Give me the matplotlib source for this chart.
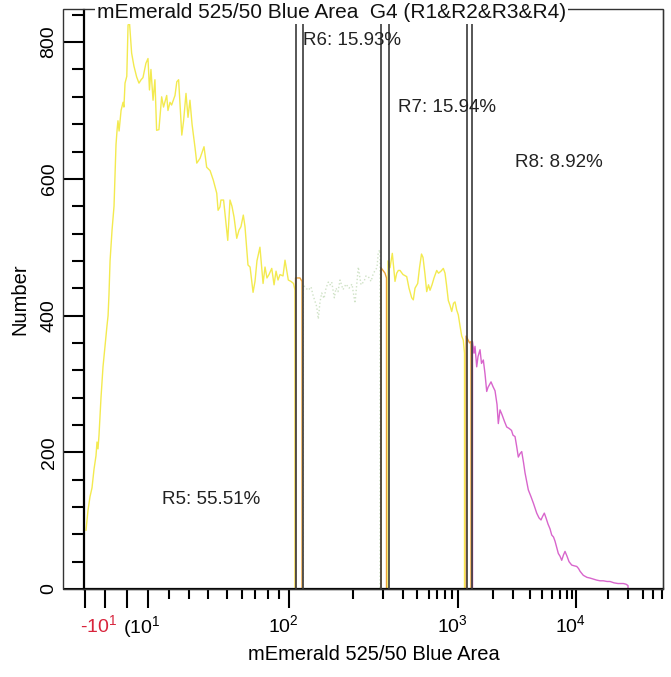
import matplotlib
matplotlib.use("Agg")
import matplotlib.pyplot as plt
import numpy as np
from matplotlib.patches import Rectangle
from matplotlib.ticker import FixedLocator
from matplotlib.transforms import ScaledTranslation

plt.rcParams['font.family'] = ['Liberation Sans', 'DejaVu Sans']
plt.rcParams['mathtext.fontset'] = 'custom'
plt.rcParams['mathtext.rm'] = 'Liberation Sans'
plt.rcParams['mathtext.it'] = 'Liberation Sans:italic'
plt.rcParams['mathtext.bf'] = 'Liberation Sans:bold'

# cytometer display scale: fluorescence value -> display channel
scale_vals = [-30, -20, -10, 0, 10, 20, 30, 40, 50, 60, 70, 80, 90, 100,
              200, 300, 400, 500, 600, 700, 800, 900, 1000,
              2000, 3000, 4000, 5000, 6000, 7000, 8000, 9000, 10000,
              20000, 30000, 40000, 50000, 60000, 100000]
scale_chan = [65, 85, 105, 127, 148, 169, 189, 208, 227, 242, 255, 268, 279, 289,
              353, 383, 403, 417, 429, 437, 445, 452, 458,
              493, 513, 530, 542, 552, 560, 567, 572, 576,
              608, 628, 643, 653, 662, 690]

# histogram, split by gate region
r5_x = [-19.5, -18.5, -17.5, -16.5, -15.5, -14.5, -14, -13.5, -13, -12,
        -11, -10, -9.1, -8.6, -8.2, -7.7, -6.8, -5.9, -5.0, -4.5,
        -4.1, -3.6, -2.7, -1.8, -1.4, -0.9, -0.1, 0.5, 1.2, 2.2,
        3.3, 4.6, 5.7, 6.7, 7.6, 9.0, 10, 10.7, 11.4, 12.4,
        13.3, 14.1, 15.2, 16.5, 17.4, 18.9, 19.5, 20.5, 21.3, 23,
        23.9, 24.8, 26.4, 27.3, 28.5, 29.5, 30.5, 31.6, 33.2, 34.1,
        35.8, 37.9, 39.3, 41.1, 42.8, 44.6, 45.3, 46.3, 46.8, 48.2,
        50.5, 52, 53.3, 54.7, 56.5, 58, 59.3, 61, 62.3, 64.6,
        66.2, 68.5, 70, 71.5, 73.8, 76.2, 77.7, 79.2, 80.9, 83.4,
        85.5, 87.3, 89.1, 91, 94, 96, 99.3, 103, 107, 109.4]
r5_n = [86, 115, 135, 148, 175, 195, 215, 205, 225, 280,
        325, 355, 385, 400, 430, 480, 525, 560, 650, 672,
        685, 670, 700, 712, 705, 740, 750, 825, 828, 784,
        765, 749, 740, 745, 748, 769, 776, 730, 760, 715,
        745, 671, 672, 720, 705, 722, 700, 712, 708, 722,
        742, 745, 664, 685, 725, 690, 715, 680, 645, 623,
        630, 647, 617, 612, 598, 579, 554, 559, 569, 569,
        510, 569, 560, 544, 513, 525, 530, 547, 530, 474,
        471, 434, 450, 480, 500, 447, 471, 455, 460, 469,
        445, 465, 452, 460, 458, 481, 452, 450, 447, 437]

gap1_x = [110.2, 114, 117.2, 120.3]
gap1_n = [455, 455, 455, 450]

r6_x = [121.9, 126.6, 130.2, 134.4, 137.5, 143.3, 145.8, 148.4, 151.1, 154.7,
        157.8, 161.4, 164.1, 166.7, 170.8, 173.4, 176.6, 179.7, 184.4, 189.1,
        193.8, 198.4, 206.7, 217.7, 226.7, 236.7, 243.3, 251, 260, 266.7,
        273.3, 280, 284.3, 290]
r6_n = [445, 440, 437, 442, 430, 413, 395, 420, 433, 425,
        440, 449, 445, 449, 426, 440, 435, 452, 438, 446,
        440, 446, 418, 471, 445, 450, 458, 457, 450, 460,
        466, 470, 493, 496]

gap2_x = [293.3, 300, 310, 317.5]
gap2_n = [470, 466, 462, 455]

r7_x = [325, 335, 346.5, 360, 368.5, 376.5, 385, 400, 426.4, 442.9,
        462.1, 473.6, 485.7, 505.8, 520.8, 537.5, 550, 566.7, 580.8, 595.8,
        612.5, 637.5, 662.5, 696.3, 718.8, 750, 778.8, 800, 821.4, 847.1,
        871.4, 895.7, 925, 950, 978.3, 1008.6, 1057, 1105.7, 1151, 1186]
r7_n = [480, 470, 491, 450, 462, 466, 466, 460, 457, 440,
        426, 423, 440, 447, 470, 490, 485, 460, 435, 445,
        437, 445, 455, 466, 462, 465, 469, 462, 445, 422,
        415, 406, 418, 420, 408, 401, 385, 370, 364, 345]

gap3_x = [1230, 1280, 1330, 1370]
gap3_n = [370, 365, 360, 362]

r8_x = [1414, 1457, 1486, 1534, 1571, 1629, 1671, 1723, 1771, 1820,
        1857, 1943, 2000, 2100, 2200, 2265, 2350, 2450, 2575, 2685,
        2800, 2925, 3000, 3118, 3206, 3312, 3412, 3512, 3618, 3706,
        3900, 4083, 4292, 4558, 4750, 4917, 5050, 5230, 5400, 5600,
        5800, 5970, 6188, 6375, 6788, 7000, 7243, 7500, 7714, 8000,
        8400, 8940, 9500, 10219, 10781, 11250, 12281, 13438, 14375, 16469,
        17500, 18531, 19688, 21000, 23000, 25000, 27650, 29000, 30000]
r8_n = [362, 345, 355, 325, 340, 350, 330, 335, 315, 289,
        295, 303, 296, 290, 270, 242, 262, 255, 245, 237,
        235, 232, 225, 223, 210, 193, 198, 201, 185, 170,
        145, 135, 125, 111, 104, 101, 106, 111, 104, 95,
        88, 79, 76, 70, 52, 48, 42, 50, 55, 48,
        40, 35, 34, 33, 30, 26, 20, 17, 16, 13,
        12, 12, 11, 11, 9, 8, 8, 7, 5]

gate_edges = [111.7, 121.1, 293.3, 330, 1257, 1386]
gate_names = ['R5: 55.51%', 'R6: 15.93%', 'R7: 15.94%', 'R8: 8.92%']

x_major = [-20, -10, 0, 10, 100, 1000, 10000]
x_major_labels = ['', r'-10$^{1}$', '', r'(10$^{1}$', r'10$^{2}$', r'10$^{3}$', r'10$^{4}$']
x_minor = [20, 30, 40, 50, 60, 70, 80, 90,
           200, 300, 400, 500, 600, 700, 800, 900,
           2000, 3000, 4000, 5000, 6000, 7000, 8000, 9000,
           20000, 30000, 40000, 50000, 60000]
y_major = [0, 200, 400, 600, 800]

YELLOW = '#f3ea4f'
ORANGE = '#eda23a'
PALE = '#cfe2c6'
MAGENTA = '#d865cc'
RED = '#d8243c'


def fwd(v):
    return np.interp(v, scale_vals, scale_chan)


def inv(c):
    return np.interp(c, scale_chan, scale_vals)


def dropped(xs, ns, left=True):
    # close a region's trace down to zero at its edges
    x = list(xs) + [xs[-1]]
    n = list(ns) + [0]
    if left:
        x = [xs[0]] + x
        n = [0] + n
    return x, n


fig = plt.figure(figsize=(6.71, 6.77), dpi=100)
ax = fig.add_axes([84 / 671, 1 - 589 / 677, 579 / 671, 579 / 677])
ax.set_xscale('function', functions=(fwd, inv))
ax.set_xlim(-20.5, 61400)
ax.set_ylim(0, 847)

ax.plot(*dropped(r5_x, r5_n, left=False), color=YELLOW, lw=1.0)
ax.plot(*dropped(gap1_x, gap1_n), color=ORANGE, lw=1.0)
ax.plot(*dropped(r6_x, r6_n), color=PALE, lw=1.0, ls=':')
ax.plot(*dropped(gap2_x, gap2_n), color=ORANGE, lw=1.0)
ax.plot(*dropped(r7_x, r7_n), color=YELLOW, lw=1.0)
ax.plot(*dropped(gap3_x, gap3_n), color=ORANGE, lw=1.0)
ax.plot(*dropped(r8_x, r8_n), color=MAGENTA, lw=1.0)

for g in gate_edges:
    ax.axvline(g, color='#3a3a3a', lw=1.2, zorder=3)

label_pos = [(0.219, 0.154), (0.463, 0.948), (0.627, 0.831), (0.820, 0.736)]
for name, (tx, ty) in zip(gate_names, label_pos):
    ax.text(tx, ty, name, transform=ax.transAxes, ha='center', va='center',
            fontsize=13.5, color='#222222')

# spines
ax.spines['top'].set_visible(False)
ax.spines['left'].set_linewidth(1.6)
ax.spines['bottom'].set_linewidth(1.6)
ax.spines['right'].set_linewidth(0.9)
ax.spines['right'].set_color('#333333')

# y axis
ax.set_yticks(y_major)
ax.yaxis.set_minor_locator(FixedLocator([v for v in range(0, 841, 40) if v % 200]))
ax.tick_params(axis='y', which='major', length=15, width=1.5, pad=4,
               labelsize=14, labelrotation=90)
ax.tick_params(axis='y', which='minor', length=8.5, width=1.5)
for lab in ax.get_yticklabels():
    lab.set_va('center')
ax.set_ylabel('Number', fontsize=14.5, labelpad=8)

# x axis
ax.set_xticks(x_major, x_major_labels)
ax.xaxis.set_minor_locator(FixedLocator(x_minor))
ax.tick_params(axis='x', which='major', length=14, width=1.5, pad=4, labelsize=14)
ax.tick_params(axis='x', which='minor', length=7.5, width=1.5)
shift = ScaledTranslation(-6 / 100, 0, fig.dpi_scale_trans)
for i, tick in enumerate(ax.xaxis.get_major_ticks()):
    tick.label1.set_transform(tick.label1.get_transform() + shift)
    if x_major[i] < 0:
        tick.tick1line.set_color(RED)
        tick.label1.set_color(RED)
ax.set_xlabel('mEmerald 525/50 Blue Area', fontsize=14.5, labelpad=4)

# outer frame and header
fig.patches.append(Rectangle((63 / 671, 1 - 589 / 677), 600 / 671, 580 / 677,
                             transform=fig.transFigure, fill=False,
                             edgecolor='#333333', lw=1.0, zorder=1))
fig.text(97 / 671, 1 - 12 / 677, 'mEmerald 525/50 Blue Area  G4 (R1&R2&R3&R4)',
         fontsize=15, ha='left', va='center', color='#111111', zorder=3,
         bbox=dict(facecolor='white', edgecolor='none', pad=1.5))

fig.savefig('out.png', dpi=100)
